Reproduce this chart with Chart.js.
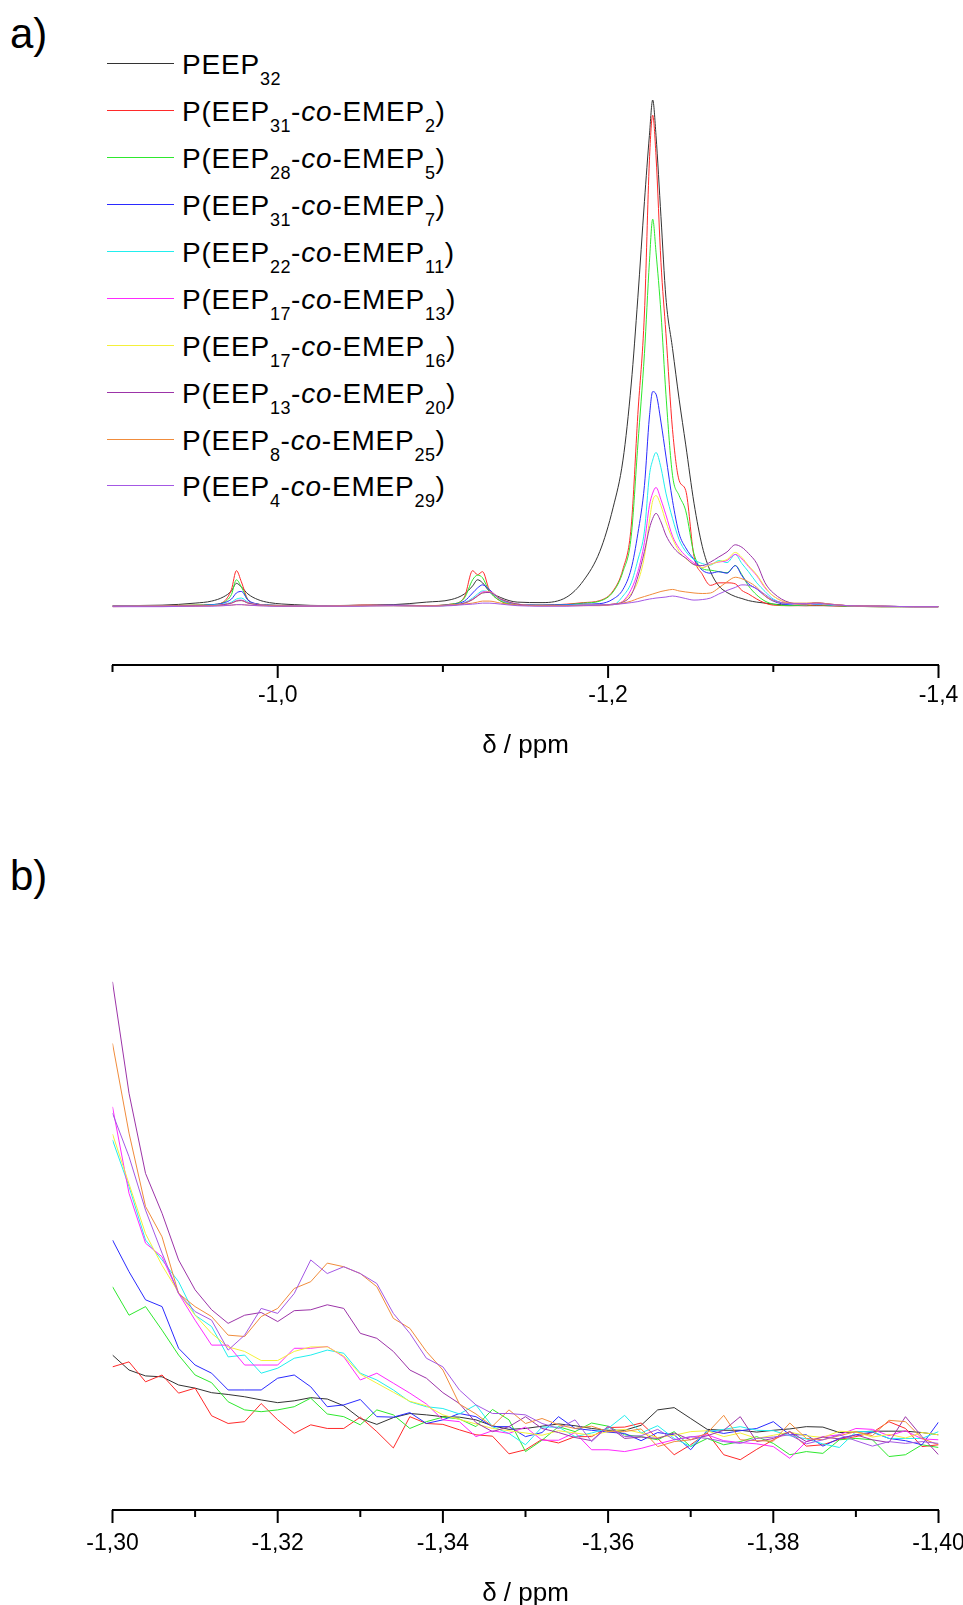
<!DOCTYPE html>
<html>
<head>
<meta charset="utf-8">
<title>31P NMR spectra</title>
<script src="https://cdn.jsdelivr.net/npm/chart.js@4.4.1/dist/chart.umd.min.js"></script>
<style>
  html, body { margin: 0; padding: 0; background: #fff; overflow: hidden; }
  body { width: 963px; height: 1605px; position: relative; font-family: "Liberation Sans", Arial, sans-serif; color: #000; }
  canvas { position: absolute; left: 0; }
  #specA { top: 0; }
  #specB { top: 800px; }
  .panel-tag { position: absolute; left: 10px; font-size: 42px; line-height: 42px; }
  .legend-row { position: absolute; left: 107px; height: 28px; font-size: 28px; line-height: 28px; white-space: nowrap; }
  .legend-row .swatch { position: absolute; left: 0; top: 12px; width: 67px; height: 1px; }
  .legend-row .name { position: absolute; left: 75px; top: 0; letter-spacing: 0.8px; }
  .legend-row sub { font-size: 18px; vertical-align: -11px; line-height: 0; letter-spacing: 0.5px; }
</style>
</head>
<body>
<div class="panel-tag" style="top:13px">a)</div>
<div class="panel-tag" style="top:855px">b)</div>
<div id="legend"></div>
<canvas id="specA" width="963" height="780"></canvas>
<canvas id="specB" width="963" height="830"></canvas>
<script>
// series names (html for the legend), in plot order
const seriesNames = [
    'PEEP<sub>32</sub>',
    'P(EEP<sub>31</sub>-<i>co</i>-EMEP<sub>2</sub>)',
    'P(EEP<sub>28</sub>-<i>co</i>-EMEP<sub>5</sub>)',
    'P(EEP<sub>31</sub>-<i>co</i>-EMEP<sub>7</sub>)',
    'P(EEP<sub>22</sub>-<i>co</i>-EMEP<sub>11</sub>)',
    'P(EEP<sub>17</sub>-<i>co</i>-EMEP<sub>13</sub>)',
    'P(EEP<sub>17</sub>-<i>co</i>-EMEP<sub>16</sub>)',
    'P(EEP<sub>13</sub>-<i>co</i>-EMEP<sub>20</sub>)',
    'P(EEP<sub>8</sub>-<i>co</i>-EMEP<sub>25</sub>)',
    'P(EEP<sub>4</sub>-<i>co</i>-EMEP<sub>29</sub>)',
]
const seriesColors = ['#333333', '#ff2a2a', '#2ee82e', '#2a2aff', '#22eeee', '#ff2aff', '#f4f03a', '#9c34a8', '#f08c3c', '#a458e4']

// panel a: chemical shift (ppm) and intensities
const shiftA = [-0.900, -0.930, -0.950, -0.960, -0.967, -0.972, -0.975, -0.978, -0.982, -0.988,
    -0.995, -1.010, -1.030, -1.050, -1.070, -1.090, -1.105, -1.113, -1.118, -1.121,
    -1.124, -1.128, -1.135, -1.145, -1.160, -1.175, -1.185, -1.195, -1.203, -1.209,
    -1.214, -1.218, -1.222, -1.225, -1.227, -1.229, -1.232, -1.235, -1.239, -1.243,
    -1.247, -1.252, -1.257, -1.262, -1.267, -1.272, -1.277, -1.281, -1.285, -1.290,
    -1.295, -1.300, -1.310, -1.320, -1.326, -1.332, -1.345, -1.365, -1.385, -1.400]
const peep32A = [0.3, 0.4, 0.8, 1.2, 2.0, 3.2, 4.7, 4.0, 2.6, 1.5,
    0.9, 0.5, 0.3, 0.4, 0.5, 1.0, 1.5, 2.6, 4.2, 5.4,
    4.8, 3.2, 1.9, 1.0, 0.9, 2.0, 5.2, 11, 19.6, 29,
    44, 61, 80, 93, 100, 93, 77, 61, 51, 41,
    32, 20.5, 12, 7, 4.2, 2.9, 2.1, 1.7, 1.3, 1.0,
    0.8, 0.6, 0.4, 0.3, 0.3, 0.3, 0.2, 0.1, 0.1, 0.1]
const emep2A = [0.2, 0.3, 0.4, 0.5, 1.0, 3.5, 7.2, 5.0, 1.5, 0.6,
    0.4, 0.3, 0.2, 0.4, 0.4, 0.3, 0.6, 2.0, 7.2, 6.4,
    7.0, 3.5, 1.2, 0.5, 0.4, 0.6, 0.9, 1.3, 3.2, 7.5,
    16, 38, 58, 88, 97, 89, 68, 54, 35, 25,
    23, 10, 6.5, 4.3, 4.8, 4.8, 4.6, 3.3, 2.6, 1.6,
    0.8, 0.4, 0.3, 0.3, 0.4, 0.3, 0.2, 0.1, 0.1, 0.1]
const emep5A = [0.2, 0.3, 0.4, 0.5, 0.9, 2.5, 5.4, 4.0, 1.4, 0.6,
    0.4, 0.3, 0.3, 0.3, 0.4, 0.3, 0.6, 1.8, 5.4, 6.3,
    5.8, 3.2, 1.2, 0.5, 0.4, 0.5, 0.8, 1.2, 3.0, 7,
    14, 32, 50, 68, 76.5, 70, 58, 42, 26, 22,
    19, 10.5, 7.6, 7.3, 7.0, 6.8, 8.2, 6.4, 4.2, 2.4,
    1.2, 0.6, 0.3, 0.4, 0.5, 0.4, 0.2, 0.1, 0.1, 0.1]
const emep7A = [0.2, 0.3, 0.3, 0.5, 0.8, 1.6, 2.8, 3.1, 1.4, 0.6,
    0.4, 0.3, 0.3, 0.3, 0.4, 0.3, 0.5, 1.2, 2.8, 3.8,
    4.4, 3.5, 1.5, 0.6, 0.4, 0.5, 0.6, 0.7, 1.6, 3.5,
    7.6, 14.5, 24, 37.5, 42.5, 42, 36.5, 29.8, 21, 14.5,
    11.7, 9.4, 7.3, 6.7, 7.0, 6.7, 8.2, 6.2, 4.6, 3.6,
    2.2, 1.2, 0.5, 0.5, 0.6, 0.5, 0.3, 0.2, 0.1, 0.1]
const emep11A = [0.2, 0.2, 0.3, 0.4, 0.6, 1.0, 1.6, 1.8, 1.0, 0.5,
    0.3, 0.2, 0.2, 0.3, 0.3, 0.2, 0.4, 0.9, 1.8, 2.6,
    3.2, 3.0, 1.5, 0.6, 0.3, 0.4, 0.5, 0.5, 0.5, 2.2,
    4.8, 9.3, 15, 26, 29, 30.5, 27.5, 22.5, 17.5, 13.3,
    11, 9.4, 8.6, 8.3, 9.2, 8.8, 10.4, 8.6, 7.0, 4.8,
    3.1, 1.6, 0.6, 0.5, 0.6, 0.5, 0.3, 0.2, 0.1, 0.1]
const emep13A = [0.2, 0.2, 0.3, 0.3, 0.5, 0.8, 1.3, 1.4, 0.9, 0.5,
    0.3, 0.2, 0.2, 0.3, 0.3, 0.2, 0.4, 0.8, 1.6, 2.3,
    3.0, 3.1, 1.6, 0.6, 0.3, 0.3, 0.4, 0.4, 0.6, 1.2,
    3.5, 7, 12.8, 20, 22.5, 23.6, 21.2, 18.2, 14, 11.6,
    10.1, 8.7, 7.8, 8.5, 8.9, 9.2, 10.4, 9.5, 8.0, 6.2,
    3.8, 2.2, 0.7, 0.5, 0.7, 0.6, 0.3, 0.2, 0.1, 0.1]
const emep16A = [0.2, 0.2, 0.3, 0.3, 0.5, 0.8, 1.2, 1.3, 0.8, 0.5,
    0.3, 0.2, 0.2, 0.3, 0.3, 0.2, 0.4, 0.8, 1.5, 2.2,
    2.8, 3.0, 1.6, 0.6, 0.3, 0.3, 0.4, 0.4, 0.6, 1.1,
    2.7, 5.0, 10, 17, 21, 22, 20, 16.8, 13.5, 11,
    9.6, 8.4, 7.8, 8.4, 9.0, 9.4, 10.8, 9.8, 8.2, 6.4,
    4.0, 2.2, 0.8, 0.5, 0.8, 0.6, 0.3, 0.2, 0.1, 0.1]
const emep20A = [0.2, 0.2, 0.3, 0.3, 0.5, 0.8, 1.2, 1.3, 0.8, 0.5,
    0.3, 0.2, 0.2, 0.3, 0.4, 0.3, 0.4, 0.8, 1.5, 2.2,
    2.8, 2.9, 1.6, 0.6, 0.3, 0.3, 0.4, 0.4, 0.6, 1.0,
    2.4, 6, 11, 15.5, 17.5, 18.5, 16.8, 14.2, 12, 10.6,
    9.7, 8.4, 8.2, 8.9, 9.9, 10.9, 12.3, 11.8, 10.6, 8.6,
    4.8, 2.8, 0.9, 0.6, 0.9, 0.7, 0.3, 0.2, 0.1, 0.1]
const emep25A = [0.1, 0.2, 0.2, 0.3, 0.3, 0.4, 0.5, 0.5, 0.4, 0.3,
    0.3, 0.2, 0.2, 0.3, 0.3, 0.3, 0.4, 0.6, 0.8, 1.0,
    1.2, 1.2, 0.8, 0.4, 0.3, 0.3, 0.3, 0.3, 0.5, 0.8,
    1.2, 1.7, 2.1, 2.4, 2.6, 2.8, 3.1, 3.3, 3.5, 3.2,
    3.0, 2.8, 2.7, 2.8, 3.8, 5.0, 5.9, 5.6, 5.0, 3.9,
    2.2, 1.3, 0.8, 0.8, 0.9, 0.7, 0.3, 0.2, 0.1, 0.1]
const emep29A = [0.1, 0.1, 0.2, 0.2, 0.3, 0.4, 0.5, 0.5, 0.4, 0.3,
    0.2, 0.2, 0.2, 0.2, 0.3, 0.2, 0.3, 0.5, 0.6, 0.7,
    0.8, 0.8, 0.6, 0.3, 0.2, 0.2, 0.3, 0.4, 0.5, 0.7,
    0.9, 1.1, 1.4, 1.6, 1.7, 1.8, 1.9, 2.0, 2.2, 2.0,
    1.7, 1.4, 1.5, 1.8, 2.6, 3.3, 3.9, 4.4, 4.3, 3.6,
    2.5, 1.4, 0.7, 0.7, 0.8, 0.6, 0.3, 0.2, 0.1, 0.1]

// panel b: zoom on -1.30 .. -1.40 ppm
const shiftB = [-1.300, -1.302, -1.304, -1.306, -1.308, -1.310, -1.312, -1.314, -1.316, -1.318,
    -1.320, -1.322, -1.324, -1.326, -1.328, -1.330, -1.332, -1.334, -1.336, -1.338,
    -1.340, -1.342, -1.344, -1.346, -1.348, -1.350, -1.352, -1.354, -1.356, -1.358,
    -1.360, -1.362, -1.364, -1.366, -1.368, -1.370, -1.372, -1.374, -1.376, -1.378,
    -1.380, -1.382, -1.384, -1.386, -1.388, -1.390, -1.392, -1.394, -1.396, -1.398, -1.400]
const peep32B = [17.2, 13.9, 12.6, 12.4, 10.6, 9.9, 8.9, 8.5, 8.0, 7.3,
    6.7, 7.1, 7.8, 7.5, 6.0, 3.2, 1.9, 3.4, 4.3, 4.0,
    3.6, 3.5, 2.9, 1.6, 0.8, 1.0, 1.5, 2.0, 1.6, 1.0,
    0.6, 0.6, 1.7, 5.1, 5.6, 3.2, 0.8, 0.6, 0.6, 0.2,
    0.6, 0.9, 1.4, 1.3, 0.1, 0.2, 0.4, 0.4, 0.4, 0.1, -0.4]
const emep2B = [14.6, 15.7, 11.3, 12.8, 8.8, 9.9, 3.8, 2.1, 2.5, 6.5,
    2.9, -0.1, 1.8, 1.0, 1.0, 3.5, 0.3, -3.3, 3.6, 2.1,
    1.9, 0.7, -0.4, -0.7, -4.6, -3.7, -1.4, -2.2, -0.8, -0.8,
    1.2, 1.3, 2.2, -1.2, -4.8, -2.6, 0, -4.8, -5.9, -3.6,
    -1.5, 0.3, -2.9, -2.6, -1.4, -0.8, 0.1, 2.5, 1.0, -3.0, -2.6]
const emep5B = [32.3, 26, 27.9, 22.7, 17.2, 12.8, 11.1, 6.9, 5.1, 4.7,
    5.1, 5.8, 7.7, 4.2, 3.6, 1.8, 5.1, 4.0, 1.0, 2.5,
    3.5, 3.1, 1.4, 5.2, 2.9, -4.1, -1.6, 1.4, 0.3, 2.2,
    1.5, -0.4, -0.8, -1.5, 0.3, -3.0, -1.2, -2.6, -1.9, -0.8,
    -2.3, -4.8, -4.1, -4.5, -1.5, -1.2, -1.5, -5.2, -4.8, -2.6, -3.2]
const emep7B = [42.6, 35.6, 29.4, 27.9, 18.7, 15, 13.2, 9.5, 9.5, 9.5,
    12.1, 12.8, 10.2, 5.8, 6.2, 7.4, 3.6, 3.5, 4.5, 2.1,
    2.9, 4.3, 3.6, 1.4, 1.4, -0.8, 0.1, 3.6, 1.0, 0.6,
    0.2, -0.1, -1.7, 0.1, -0.4, -3.7, 0.6, -0.1, 0.5, 1.0,
    2.5, -0.4, -0.4, -2.9, -1.2, -0.4, 0.2, -1.2, -1.7, -2.6, 2.4]
const emep11B = [64.7, 54.4, 42.6, 38.2, 33.4, 26, 23.5, 16.8, 17.2, 13.2,
    14.3, 16.5, 17.2, 18.3, 17.6, 13.2, 11.7, 9.5, 6.9, 5.8,
    5.4, 4.2, 6.2, 1.4, -0.1, -2.6, 1.3, 1.3, -0.8, 0,
    1.0, 3.9, 0, 1.6, -1.2, -3.0, 0.3, 0.8, 1.4, 0.6,
    0.5, -0.6, -1.3, -2.4, -3.2, 0.3, 0.3, -1.2, -1.2, -1.2, 0.3]
const emep13B = [72, 52.9, 41.9, 38.9, 30.8, 24.9, 19.4, 19.4, 15, 15,
    15, 18.7, 18.7, 19.1, 16.8, 11.7, 13.2, 11, 8.8, 6.4,
    2.9, 2.5, -0.8, 0.5, -0.1, 1.3, -1.6, -1.6, 0.1, -3.7,
    -3.7, -4.1, -3.4, -2.4, -1.5, -0.9, -0.4, -1.7, -2.1, -2.4,
    -3.0, -5.6, -1.9, -0.8, -0.4, 1.0, 0.8, -0.6, 0.5, -1.3, -1.5]
const emep16B = [66, 55, 44, 37, 31, 26, 22, 19, 18, 16,
    16, 18, 19, 19, 17, 13, 11, 9, 7, 6,
    4, 3, 2, 1, 0.5, 0, -0.5, 0.5, 0, -0.5,
    0.3, 0.8, 0, -1, -0.5, 0.3, 0.5, -0.8, 0, -1.2,
    -0.5, 0.2, -0.6, -1.0, 0.4, 0.2, -0.9, -0.3, -1.1, 0.1, -0.4]
const emep20B = [99.6, 75, 57.3, 48.5, 38.2, 31.6, 27.2, 24.2, 26, 26.6,
    24.6, 27, 27.2, 28.3, 27.5, 22, 20.9, 18, 13.9, 12.1,
    8.9, 6.5, 2.3, 0.3, 1.4, 3.6, 1.0, 0.1, -1, -1.7,
    1.5, -1.2, -0.9, -1.2, 0, -1.5, -0.6, 0.6, 3.6, -1.9,
    -1.2, 0.3, -1.9, -0.9, -1.3, -0.4, -1.5, -2.1, 3.6, -0.8, -4.8]
const emep25B = [86, 66.2, 50, 43.3, 30.8, 27.9, 25.7, 21.6, 21.3, 25.7,
    27.5, 31.9, 33.4, 37.5, 36.7, 35.2, 32.3, 25.3, 23.1, 18,
    13.9, 6.4, 4.2, 1.5, 5.1, 2.1, 3.2, 1.8, 1.0, 1.5,
    0.3, 0.3, 0.9, -3.0, -1.9, -1.5, 0, 3.9, -1.5, -1.7,
    -1.8, 2.2, -1.2, -1.5, -0.6, 0.3, -0.6, 2.8, 2.5, -1.2, -2.6]
const emep29B = [70.6, 61, 49.2, 39.7, 30.8, 26.8, 24.9, 18.3, 21.6, 27.5,
    26.4, 30.8, 38.2, 35.2, 36.7, 35.2, 33, 26.4, 22, 16.5,
    14.6, 9.5, 6.2, 4.3, 4.3, 4.0, 2.1, 1.0, 2.9, -1.9,
    1.5, -0.8, -0.6, 0.8, -1.5, -0.8, -1.2, -1.9, -2.3, -1.2,
    -0.9, -0.4, -2.4, -1.5, -0.4, -1.7, -2.9, -1.9, -2.3, -1.9, -2.3]

const seriesA = [peep32A, emep2A, emep5A, emep7A, emep11A, emep13A, emep16A, emep20A, emep25A, emep29A]
const seriesB = [peep32B, emep2B, emep5B, emep7B, emep11B, emep13B, emep16B, emep20B, emep25B, emep29B]

const FONT = '"Liberation Sans", Arial, sans-serif'

// legend (html so the subscripts and the italic "co" stay real text)
const legendBox = document.getElementById('legend')
seriesNames.forEach((name, i) => {
    const row = document.createElement('div')
    row.className = 'legend-row'
    row.style.top = (51.3 + 46.9 * i) + 'px'
    row.innerHTML = `<div class="swatch" style="background:${seriesColors[i]}"></div><div class="name">${name}</div>`
    legendBox.appendChild(row)
})

// ticks: long ones where there is a label, short ones between
const tickMarks = {
    id: 'tickMarks',
    afterDraw(chart) {
        const sc = chart.scales.x
        const ctx = chart.ctx
        ctx.save()
        ctx.strokeStyle = '#000'
        ctx.lineWidth = 2
        sc.ticks.forEach(t => {
            const px = sc.getPixelForValue(t.value)
            const len = t.label !== '' ? 13 : 7
            ctx.beginPath()
            ctx.moveTo(px, sc.top)
            ctx.lineTo(px, sc.top + len)
            ctx.stroke()
        })
        ctx.restore()
    }
}

const makeChart = (id, cfg) => {
    const datasets = cfg.series.map((ys, i) => ({
        label: seriesNames[i].replace(/<[^>]+>/g, ''),
        data: cfg.shift.map((x, k) => ({x, y: ys[k]})),
        borderColor: seriesColors[i],
        borderWidth: 1,
        pointRadius: 0,
        fill: false,
        cubicInterpolationMode: cfg.smooth ? 'monotone' : 'default',
        tension: 0,
        order: 20 - i,
    }))
    return new Chart(document.getElementById(id).getContext('2d'), {
        type: 'line',
        data: {datasets},
        options: {
            responsive: false,
            devicePixelRatio: 1,
            animation: false,
            layout: {padding: {left: 112.5, right: 24.5, top: cfg.top, bottom: 0}},
            plugins: {legend: {display: false}, title: {display: false}, tooltip: {enabled: false}},
            scales: {
                x: {
                    type: 'linear',
                    reverse: true,
                    min: cfg.xMin,
                    max: cfg.xMax,
                    afterFit: (scale) => {
                        scale.height = cfg.axisHeight
                        scale.paddingLeft = 0
                        scale.paddingRight = 0
                    },
                    grid: {display: false, drawTicks: false},
                    border: {display: true, color: '#000', width: 2},
                    ticks: {
                        stepSize: cfg.step,
                        autoSkip: false,
                        maxRotation: 0,
                        color: '#000',
                        padding: cfg.labelPad,
                        font: {family: FONT, size: 23},
                        callback: cfg.label,
                    },
                    title: {
                        display: true,
                        text: 'δ / ppm',
                        color: '#000',
                        font: {family: FONT, size: 26, lineHeight: 1.2},
                        padding: {top: 0, bottom: cfg.titlePad},
                    },
                },
                y: {display: false, min: cfg.yMin, max: cfg.yMax},
            },
        },
        plugins: [tickMarks],
    })
}

makeChart('specA', {
    shift: shiftA, series: seriesA, smooth: true,
    top: 100, axisHeight: 115, labelPad: 17, titlePad: 18.4,
    xMin: -1.4, xMax: -0.9, step: 0.1, yMin: -11.4, yMax: 100,
    label: (v) => Math.round(-v * 10) % 2 === 0 ? v.toFixed(1).replace('.', ',') : '',
})

makeChart('specB', {
    shift: shiftB, series: seriesB, smooth: false,
    top: 180, axisHeight: 120, labelPad: 20, titlePad: 20.4,
    xMin: -1.4, xMax: -1.3, step: 0.01, yMin: -17, yMax: 100,
    label: (v) => Math.round(-v * 100) % 2 === 0 ? v.toFixed(2).replace('.', ',') : '',
})
</script>
</body>
</html>
